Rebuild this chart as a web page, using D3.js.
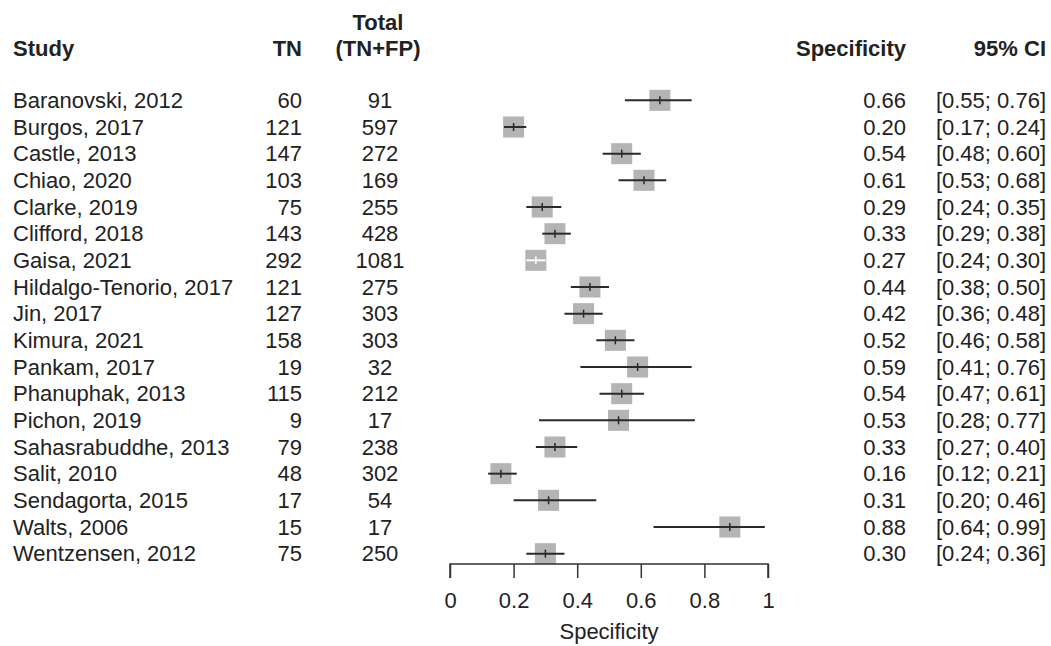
<!DOCTYPE html>
<html lang="en">
<head>
    <meta charset="UTF-8">
    <title>Forest plot - specificity</title>
    <script src="https://cdn.jsdelivr.net/npm/d3@7"></script>
    <style>
        body { margin: 0; background: #fff; }
        svg text { font-family: "Liberation Sans", Arial, Helvetica, sans-serif; fill: #222; }
    </style>
</head>
<body>
<svg id="svg" width="1051" height="646"></svg>
<script>
    var studies = ["Baranovski, 2012", "Burgos, 2017", "Castle, 2013", "Chiao, 2020", "Clarke, 2019",
        "Clifford, 2018", "Gaisa, 2021", "Hildalgo-Tenorio, 2017", "Jin, 2017", "Kimura, 2021",
        "Pankam, 2017", "Phanuphak, 2013", "Pichon, 2019", "Sahasrabuddhe, 2013", "Salit, 2010",
        "Sendagorta, 2015", "Walts, 2006", "Wentzensen, 2012"];
    var tn = [60, 121, 147, 103, 75, 143, 292, 121, 127, 158, 19, 115, 9, 79, 48, 17, 15, 75];
    var total = [91, 597, 272, 169, 255, 428, 1081, 275, 303, 303, 32, 212, 17, 238, 302, 54, 17, 250];
    var spec = [0.66, 0.20, 0.54, 0.61, 0.29, 0.33, 0.27, 0.44, 0.42, 0.52, 0.59, 0.54, 0.53, 0.33, 0.16, 0.31, 0.88, 0.30];
    var lower = [0.55, 0.17, 0.48, 0.53, 0.24, 0.29, 0.24, 0.38, 0.36, 0.46, 0.41, 0.47, 0.28, 0.27, 0.12, 0.20, 0.64, 0.24];
    var upper = [0.76, 0.24, 0.60, 0.68, 0.35, 0.38, 0.30, 0.50, 0.48, 0.58, 0.76, 0.61, 0.77, 0.40, 0.21, 0.46, 0.99, 0.36];
    var xTicks = [0, 0.2, 0.4, 0.6, 0.8, 1];

    var svg = d3.select("#svg");
    var fs = 22;

    var x = d3.scaleLinear().domain([0, 1]).range([450, 768]);
    var y = d3.scaleBand().domain(studies).range([87, 567]).paddingInner(0).paddingOuter(0);

    var rows = studies.map(function (s, i) {
        return {study: s, tn: tn[i], total: total[i], est: spec[i], lo: lower[i], hi: upper[i]};
    });

    // headers
    var head = svg.append("g").attr("font-weight", "bold").attr("font-size", fs);
    head.append("text").attr("x", 13).attr("y", 56).text("Study");
    head.append("text").attr("x", 302).attr("y", 56).attr("text-anchor", "end").text("TN");
    head.append("text").attr("x", 378).attr("y", 30).attr("text-anchor", "middle").text("Total");
    head.append("text").attr("x", 378).attr("y", 56).attr("text-anchor", "middle").text("(TN+FP)");
    head.append("text").attr("x", 906).attr("y", 56).attr("text-anchor", "end").text("Specificity");
    head.append("text").attr("x", 1046).attr("y", 56).attr("text-anchor", "end").text("95% CI");

    var row = svg.append("g").selectAll("g").data(rows).enter().append("g")
        .attr("transform", function (d) { return "translate(0," + (y(d.study) + y.bandwidth() / 2) + ")"; });

    row.append("text").attr("x", 13).attr("dy", "0.35em").attr("font-size", fs).text(function (d) { return d.study; });
    row.append("text").attr("x", 302).attr("dy", "0.35em").attr("font-size", fs).attr("text-anchor", "end")
        .text(function (d) { return d.tn; });
    row.append("text").attr("x", 380).attr("dy", "0.35em").attr("font-size", fs).attr("text-anchor", "middle")
        .text(function (d) { return d.total; });
    row.append("text").attr("x", 906).attr("dy", "0.35em").attr("font-size", fs).attr("text-anchor", "end")
        .text(function (d) { return d.est.toFixed(2); });
    row.append("text").attr("x", 1046).attr("dy", "0.35em").attr("font-size", fs).attr("text-anchor", "end")
        .text(function (d) { return "[" + d.lo.toFixed(2) + "; " + d.hi.toFixed(2) + "]"; });

    // boxes
    var box = 21;
    row.append("rect")
        .attr("x", function (d) { return x(d.est) - box / 2; })
        .attr("y", -box / 2)
        .attr("width", box).attr("height", box)
        .attr("fill", "#b4b4b4");

    // CI lines, white when entirely within the box
    function inside(d) { return x(d.hi) - x(d.lo) < box; }
    row.append("line")
        .attr("x1", function (d) { return x(d.lo); })
        .attr("x2", function (d) { return x(d.hi); })
        .attr("stroke", function (d) { return inside(d) ? "#fff" : "#2a2a2a"; })
        .attr("stroke-width", 2);
    row.append("line")
        .attr("x1", function (d) { return x(d.est); })
        .attr("x2", function (d) { return x(d.est); })
        .attr("y1", -4).attr("y2", 4)
        .attr("stroke", function (d) { return inside(d) ? "#fff" : "#2a2a2a"; })
        .attr("stroke-width", 1.5);

    // axis
    var axis = d3.axisBottom(x).tickValues(xTicks).tickSize(14).tickPadding(14)
        .tickFormat(function (d) { return d === 0 || d === 1 ? d3.format("d")(d) : d3.format(".1f")(d); });
    var ax = svg.append("g").attr("transform", "translate(0,564)").call(axis);
    ax.select(".domain").attr("stroke", "#333").attr("stroke-width", 1.5)
        .attr("d", "M" + x(0) + ",14V0H" + x(1) + "V14");
    ax.selectAll(".tick line").attr("stroke", "#333").attr("stroke-width", 1.5);
    ax.selectAll(".tick text").attr("font-size", fs).attr("fill", "#222");

    svg.append("text").attr("x", (x(0) + x(1)) / 2).attr("y", 639).attr("text-anchor", "middle")
        .attr("font-size", fs).text("Specificity");
</script>
</body>
</html>
